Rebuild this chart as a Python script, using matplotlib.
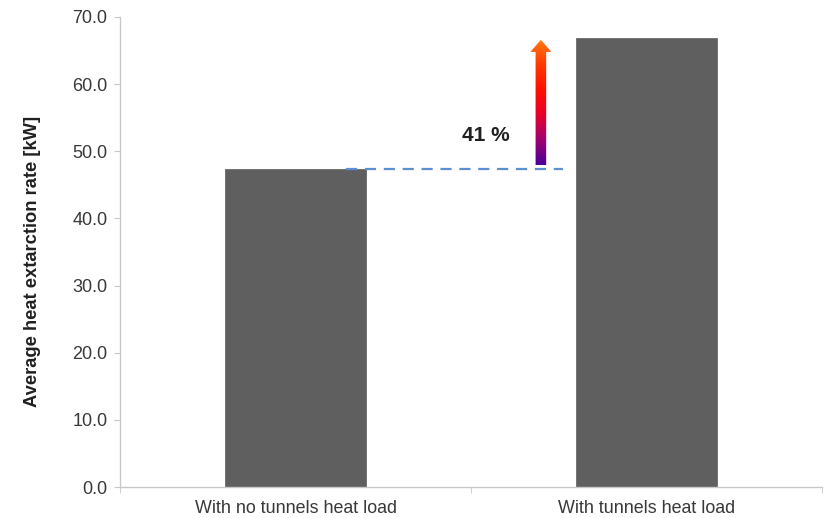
import matplotlib
matplotlib.use("Agg")
import matplotlib.pyplot as plt
import numpy as np
from matplotlib.colors import LinearSegmentedColormap
from matplotlib.patches import Polygon

plt.rcParams['font.family'] = ['Liberation Sans', 'DejaVu Sans']

categories = ["With no tunnels heat load", "With tunnels heat load"]
values = [47.3, 66.9]
yticks = [0, 10, 20, 30, 40, 50, 60, 70]
increase_label = "41 %"

fig = plt.figure(figsize=(8.29, 5.18), dpi=100)
ax = fig.add_axes([0.1448, 0.0598, 0.8468, 0.9074])

x = np.arange(len(categories))
ax.bar(x, values, width=0.4, color='#5f5f5f', edgecolor='#6a6a6a', linewidth=0.6, zorder=2)

ax.set_xlim(-0.5, 1.5)
ax.set_ylim(0, 70)
ax.set_yticks(yticks)
ax.set_yticklabels([f"{v:.1f}" for v in yticks], fontsize=13, color='#383838')
ax.set_xticks(x)
ax.set_xticklabels(categories, fontsize=12.9, color='#383838')
ax.set_xticks([-0.5, 0.5, 1.5], minor=True)
ax.tick_params(axis='x', which='major', length=0, pad=9)
ax.tick_params(axis='x', which='minor', length=4, color='#c8c8c8', direction='out')
ax.tick_params(axis='y', length=4, color='#c8c8c8', direction='out', pad=5)

for s in ['top', 'right']:
    ax.spines[s].set_visible(False)
for s in ['left', 'bottom']:
    ax.spines[s].set_color('#c8c8c8')
    ax.spines[s].set_linewidth(1.0)

ax.set_ylabel("Average heat extarction rate [kW]", fontsize=13.2, fontweight='bold', color='#202020')
ax.yaxis.set_label_coords(-0.112, 0.479)

# dashed reference line
ax.plot([0.144, 0.762], [values[0], values[0]], linestyle=(0, (5, 3.5)), color='#5b8fcf', linewidth=1.6, zorder=3)

# gradient arrow
xa = 0.699
y0 = 47.96
y1 = 66.6
yh = 64.8
sw = 0.0151
hw = 0.030
poly = [(xa - sw, y0), (xa + sw, y0), (xa + sw, yh), (xa + hw, yh), (xa, y1),
        (xa - hw, yh), (xa - sw, yh)]
patch = Polygon(poly, closed=True, facecolor='none', edgecolor='none', transform=ax.transData)
ax.add_patch(patch)
cmap = LinearSegmentedColormap.from_list('arr', ['#4a0098', '#a0006e', '#e8002a', '#ff1000', '#ff3a00', '#ff7a10'])
grad = np.linspace(0, 1, 256).reshape(-1, 1)
im = ax.imshow(grad, cmap=cmap, origin='lower', aspect='auto',
               extent=[xa - hw, xa + hw, y0, y1], zorder=4, interpolation='bilinear')
im.set_clip_path(patch)
ax.set_xlim(-0.5, 1.5)
ax.set_ylim(0, 70)

ax.text(0.543, 52.4, increase_label, fontsize=15, fontweight='bold', color='#202020', ha='center', va='center')

fig.savefig('out.png', dpi=100)
